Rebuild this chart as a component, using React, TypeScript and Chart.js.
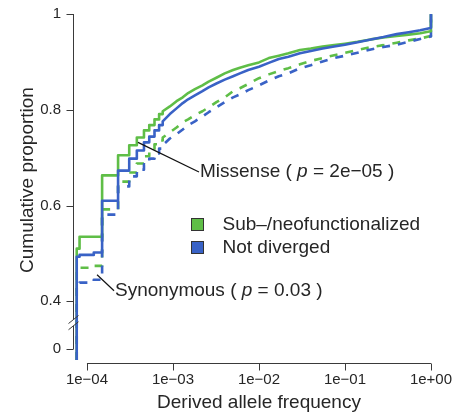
import React, { useEffect, useRef } from 'react';
import { Chart, registerables } from 'chart.js';

Chart.register(...registerables);

// Derived allele frequency grid (ECDF evaluation points)
const FREQ = [
  7.6e-5, 8.2e-5, 1.2e-4, 1.5e-4, 2.3e-4, 3.1e-4, 3.8e-4, 4.6e-4, 5.3e-4, 6.1e-4,
  6.9e-4, 7.6e-4, 9.2e-4, 1.1e-3, 1.3e-3, 1.5e-3, 1.8e-3, 2.2e-3, 2.6e-3, 3.2e-3,
  4e-3, 5e-3, 6e-3, 7.5e-3, 1e-2, 1.3e-2, 1.7e-2, 2.2e-2, 3e-2, 4e-2,
  5.5e-2, 7.5e-2, 0.1, 0.14, 0.2, 0.28, 0.4, 0.55, 0.75, 0.99, 1,
];
// the first grid points are single allele counts (discrete jumps)
const DISCRETE_POINTS = 12;

// Cumulative proportions
const MISSENSE_SUBNEO = [
  0.51, 0.535, 0.535, 0.663, 0.705, 0.726, 0.742, 0.757, 0.768, 0.78,
  0.791, 0.797, 0.807, 0.818, 0.826, 0.835, 0.843, 0.851, 0.859, 0.867,
  0.876, 0.883, 0.888, 0.893, 0.899, 0.908, 0.913, 0.918, 0.925, 0.928,
  0.932, 0.935, 0.938, 0.942, 0.947, 0.951, 0.954, 0.957, 0.96, 0.964, 1.0,
];
const MISSENSE_NOTDIV = [
  0.493, 0.497, 0.502, 0.61, 0.673, 0.698, 0.715, 0.732, 0.744, 0.757,
  0.768, 0.776, 0.791, 0.803, 0.814, 0.822, 0.83, 0.839, 0.847, 0.855,
  0.863, 0.87, 0.876, 0.883, 0.89, 0.898, 0.906, 0.911, 0.918, 0.923,
  0.928, 0.932, 0.936, 0.941, 0.947, 0.952, 0.958, 0.962, 0.966, 0.971, 1.0,
];
const SYNONYMOUS_SUBNEO = [
  0.466, 0.47, 0.474, 0.592, 0.65, 0.669, 0.688, 0.703, 0.715, 0.728,
  0.736, 0.742, 0.753, 0.763, 0.774, 0.78, 0.789, 0.797, 0.805, 0.816,
  0.826, 0.839, 0.845, 0.854, 0.866, 0.874, 0.881, 0.887, 0.895, 0.902,
  0.908, 0.914, 0.919, 0.925, 0.931, 0.935, 0.94, 0.945, 0.949, 0.954, 1.0,
];
const SYNONYMOUS_NOTDIV = [
  0.437, 0.439, 0.445, 0.581, 0.64, 0.661, 0.675, 0.686, 0.698, 0.709,
  0.719, 0.726, 0.74, 0.749, 0.759, 0.768, 0.776, 0.786, 0.795, 0.805,
  0.816, 0.826, 0.832, 0.841, 0.851, 0.861, 0.87, 0.876, 0.887, 0.893,
  0.901, 0.908, 0.913, 0.919, 0.926, 0.931, 0.936, 0.942, 0.948, 0.953, 1.0,
];

const X_TICKS = [1e-4, 1e-3, 1e-2, 1e-1, 1];
const X_TICK_LABELS = ['1e\u221204', '1e\u221203', '1e\u221202', '1e\u221201', '1e+00'];
const Y_TICKS = [0, 0.4, 0.6, 0.8, 1];
const Y_TICK_LABELS = ['0', '0.4', '0.6', '0.8', '1'];
const SERIES_LABELS = ['Sub\u2013/neofunctionalized', 'Not diverged'];

// annotation anchors (data coordinates)
const MISSENSE_NOTE = { from: { x: 3.92e-4, y: 0.732 }, text: { x: 2.06e-3, y: 0.67 }, before: 'Missense ( ', after: ' = 2e\u221205 )' };
const SYNONYMOUS_NOTE = { from: { x: 1.31e-4, y: 0.4555 }, text: { x: 2.12e-4, y: 0.422 }, before: 'Synonymous ( ', after: ' = 0.03 )' };
const LEGEND_AT = { x: 1.62e-3, y: 0.573 };

const GREEN = '#5fbe47';
const BLUE = '#3962c6';
const INK = '#262626';
const AXIS = '#3a3a3a';
const FONT = "'Liberation Sans', Arial, Helvetica, sans-serif";

const X_MIN = 6.88e-5;
const X_MAX = 1.456;
const Y_MIN = 0.2775;
const Y_MAX = 1.0293;

// broken axis: values below 0.4 are compressed
function toAxis(v: number) {
  return v >= 0.4 ? v : 0.3 + v * 0.25;
}

function ecdfPoints(vals: number[]) {
  const pts: { x: number; y: number }[] = [{ x: FREQ[0], y: Y_MIN }];
  let prev = Y_MIN;
  FREQ.forEach((f, i) => {
    const v = toAxis(vals[i]);
    if (i < DISCRETE_POINTS || i === FREQ.length - 1) pts.push({ x: f, y: prev });
    pts.push({ x: f, y: v });
    prev = v;
  });
  return pts;
}

function series(label: string, vals: number[], color: string, dashed: boolean) {
  return {
    label,
    data: ecdfPoints(vals),
    borderColor: color,
    backgroundColor: color,
    borderWidth: 2.6,
    borderDash: dashed ? [8, 8] : [],
    pointRadius: 0,
    fill: false,
    tension: 0,
    borderCapStyle: 'butt' as const,
    borderJoinStyle: 'round' as const,
  };
}

function drawRich(ctx: CanvasRenderingContext2D, x: number, y: number, before: string, after: string) {
  ctx.textBaseline = 'middle';
  ctx.textAlign = 'left';
  ctx.fillStyle = INK;
  ctx.font = `19px ${FONT}`;
  ctx.fillText(before, x, y);
  let cx = x + ctx.measureText(before).width;
  ctx.font = `italic 19px ${FONT}`;
  ctx.fillText('p', cx, y);
  cx += ctx.measureText('p').width;
  ctx.font = `19px ${FONT}`;
  ctx.fillText(after, cx, y);
}

const decor = {
  id: 'decor',
  afterDatasetsDraw(chart: any) {
    const { ctx, chartArea, scales } = chart;
    const x = scales.x;
    const y = scales.y;
    ctx.save();
    ctx.strokeStyle = AXIS;
    ctx.lineWidth = 1;
    ctx.setLineDash([]);
    // y axis with break
    const ax = Math.round(chartArea.left) + 0.5;
    const yTop = y.getPixelForValue(toAxis(1));
    const yBot = y.getPixelForValue(toAxis(0));
    const b1 = y.getPixelForValue(0.362);
    const b2 = y.getPixelForValue(0.349);
    ctx.beginPath();
    ctx.moveTo(ax, yTop);
    ctx.lineTo(ax, b1);
    ctx.moveTo(ax, b2);
    ctx.lineTo(ax, yBot);
    for (const c of [b1, b2]) {
      ctx.moveTo(ax - 5, c + 4);
      ctx.lineTo(ax + 5, c - 4);
    }
    Y_TICKS.forEach((t) => {
      const py = Math.round(y.getPixelForValue(toAxis(t))) + 0.5;
      ctx.moveTo(ax - 7, py);
      ctx.lineTo(ax, py);
    });
    // x axis
    const xy = Math.round(chartArea.bottom) + 3.5;
    const x0 = x.getPixelForValue(X_TICKS[0]);
    const x1 = x.getPixelForValue(X_TICKS[X_TICKS.length - 1]);
    ctx.moveTo(x0, xy);
    ctx.lineTo(x1, xy);
    X_TICKS.forEach((t) => {
      const px = Math.round(x.getPixelForValue(t)) + 0.5;
      ctx.moveTo(px, xy);
      ctx.lineTo(px, xy + 7);
    });
    ctx.stroke();

    // annotations
    ctx.strokeStyle = '#111';
    ctx.lineWidth = 1.2;
    for (const note of [MISSENSE_NOTE, SYNONYMOUS_NOTE]) {
      const fx = x.getPixelForValue(note.from.x);
      const fy = y.getPixelForValue(note.from.y);
      const tx = x.getPixelForValue(note.text.x);
      const ty = y.getPixelForValue(note.text.y);
      ctx.beginPath();
      ctx.moveTo(fx, fy);
      ctx.lineTo(tx - 1, ty);
      ctx.stroke();
      drawRich(ctx, tx, ty, note.before, note.after);
    }

    // legend
    const lx = Math.round(x.getPixelForValue(LEGEND_AT.x)) + 0.5;
    const ly = Math.round(y.getPixelForValue(LEGEND_AT.y)) + 0.5;
    [GREEN, BLUE].forEach((col, i) => {
      const by = ly + i * 23;
      ctx.fillStyle = col;
      ctx.fillRect(lx, by, 12, 12);
      ctx.strokeStyle = '#333';
      ctx.lineWidth = 1;
      ctx.strokeRect(lx, by, 12, 12);
      ctx.fillStyle = INK;
      ctx.font = `19px ${FONT}`;
      ctx.textBaseline = 'middle';
      ctx.textAlign = 'left';
      ctx.fillText(SERIES_LABELS[i], lx + 31, by + 6.5);
    });
    ctx.restore();
  },
};

export default function App() {
  const ref = useRef<HTMLCanvasElement | null>(null);
  useEffect(() => {
    document.body.style.margin = '0';
    const canvas = ref.current;
    if (!canvas) return;
    const chart = new Chart(canvas, {
      type: 'line',
      data: {
        datasets: [
          series('Missense: ' + SERIES_LABELS[1], MISSENSE_NOTDIV, BLUE, false),
          series('Missense: ' + SERIES_LABELS[0], MISSENSE_SUBNEO, GREEN, false),
          series('Synonymous: ' + SERIES_LABELS[1], SYNONYMOUS_NOTDIV, BLUE, true),
          series('Synonymous: ' + SERIES_LABELS[0], SYNONYMOUS_SUBNEO, GREEN, true),
        ] as any,
      },
      options: {
        animation: false,
        responsive: true,
        maintainAspectRatio: false,
        devicePixelRatio: 1,
        layout: { padding: { left: 0, right: 10, top: 0, bottom: 0 } },
        plugins: { legend: { display: false }, tooltip: { enabled: false } },
        scales: {
          x: {
            type: 'logarithmic',
            min: X_MIN,
            max: X_MAX,
            afterBuildTicks: (s: any) => {
              s.ticks = X_TICKS.map((v) => ({ value: v }));
            },
            afterFit: (s: any) => {
              s.height = 52;
              s.paddingLeft = 0;
              s.paddingRight = 0;
              s.paddingTop = 0;
              s.paddingBottom = 0;
            },
            ticks: {
              callback: (_v: any, i: number) => X_TICK_LABELS[i],
              font: { family: FONT, size: 15 },
              color: INK,
              padding: 11,
              maxRotation: 0,
              autoSkip: false,
            },
            grid: { display: false, drawTicks: false },
            border: { display: false },
            title: {
              display: true,
              text: 'Derived allele frequency',
              font: { family: FONT, size: 19, lineHeight: 1 },
              color: INK,
              padding: { top: 0, bottom: 0 },
            },
          },
          y: {
            type: 'linear',
            min: Y_MIN,
            max: Y_MAX,
            afterBuildTicks: (s: any) => {
              s.ticks = Y_TICKS.map((v) => ({ value: toAxis(v) }));
            },
            afterFit: (s: any) => {
              s.width = 73;
              s.paddingLeft = 0;
              s.paddingRight = 0;
              s.paddingTop = 0;
              s.paddingBottom = 0;
            },
            ticks: {
              callback: (_v: any, i: number) => Y_TICK_LABELS[i],
              font: { family: FONT, size: 15 },
              color: INK,
              padding: 12,
              autoSkip: false,
            },
            grid: { display: false, drawTicks: false },
            border: { display: false },
            title: {
              display: true,
              text: 'Cumulative proportion',
              font: { family: FONT, size: 19, lineHeight: 1 },
              color: INK,
              padding: { top: 18, bottom: 0 },
            },
          },
        },
      },
      plugins: [decor],
    });
    return () => chart.destroy();
  }, []);
  return (
    <div style={{ position: 'absolute', left: 0, top: 0, width: 455, height: 412 }}>
      <canvas ref={ref} />
    </div>
  );
}
